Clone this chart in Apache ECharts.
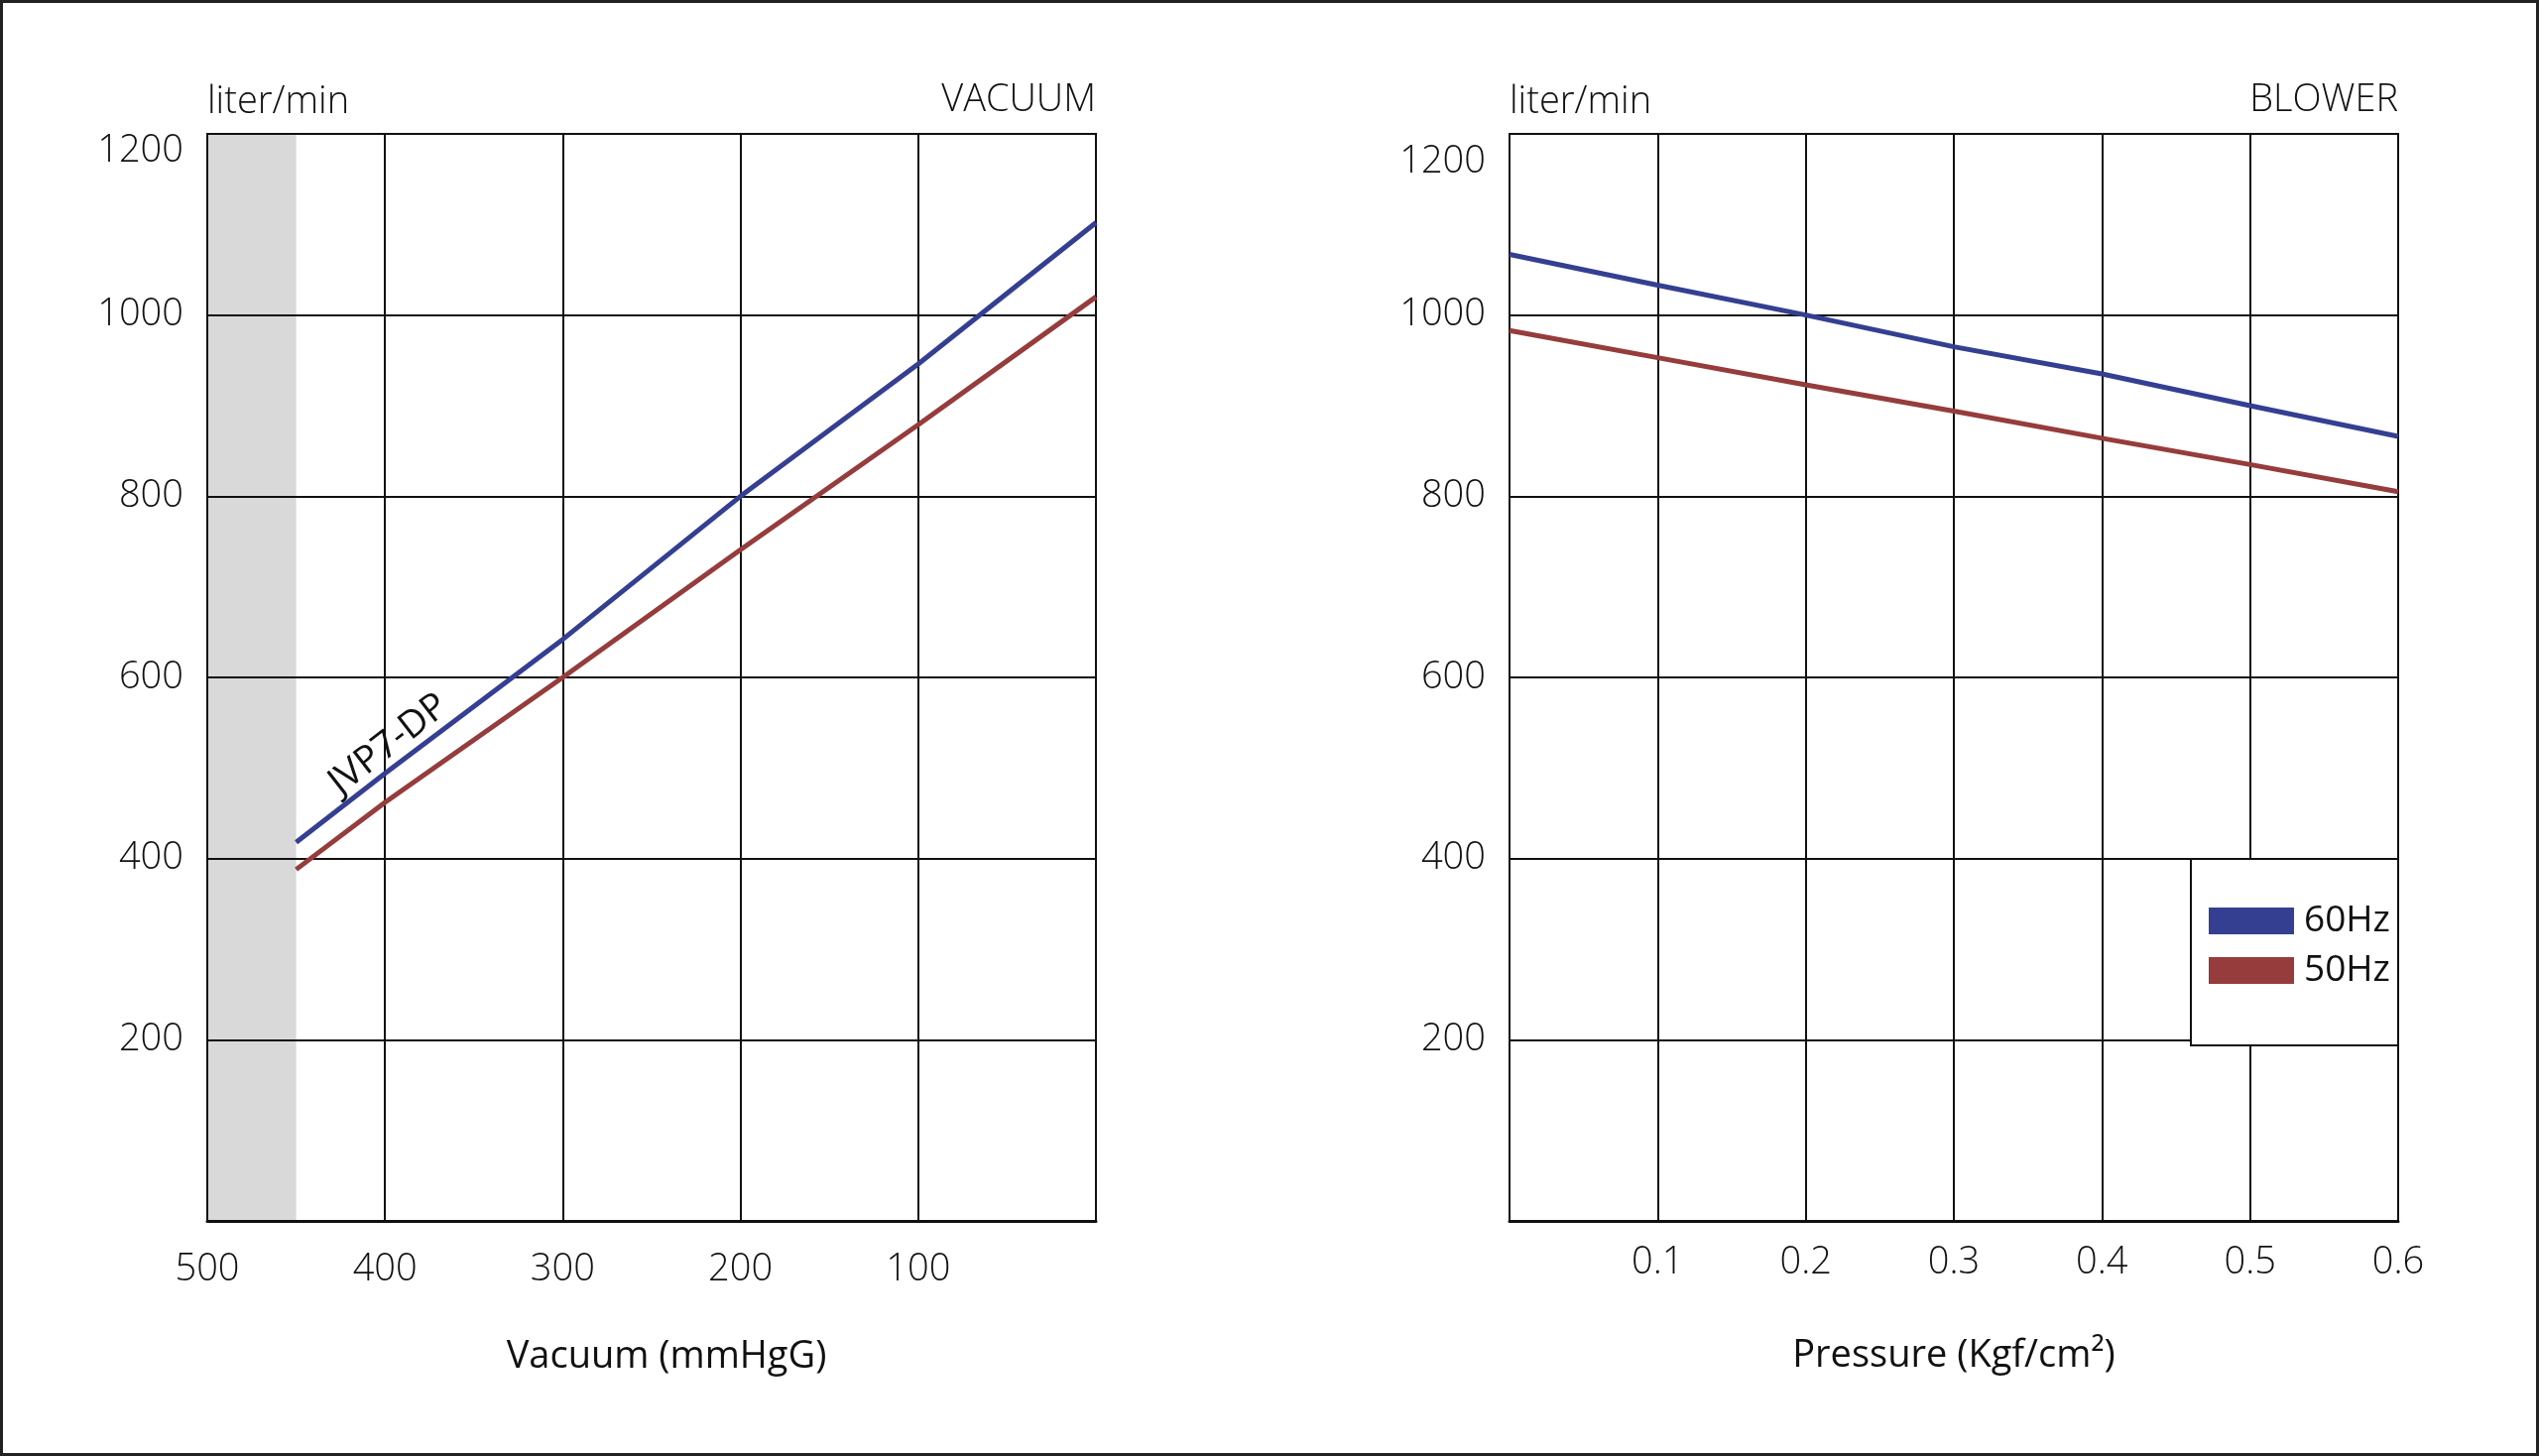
<!DOCTYPE html>
<html><head><meta charset="utf-8">
<script src="https://cdn.jsdelivr.net/npm/echarts@6/dist/echarts.min.js"></script>
<style>
html,body{margin:0;padding:0;background:#fff}
#c{width:2560px;height:1468px}
#f{position:absolute;left:0;top:0;width:2560px;height:1468px;box-sizing:border-box;border:3px solid #222;pointer-events:none}
</style>
</head><body><div id="c"></div><div id="f"></div>
<script>
// ---- data ----
const vacuumX = [450, 400, 300, 200, 100, 0];
const vacuum60 = [418, 494, 642, 800, 946, 1102];
const vacuum50 = [388, 462, 600, 741, 879, 1020];
const blowerX = [0, 0.1, 0.2, 0.3, 0.4, 0.5, 0.6];
const blower60 = [1067, 1033, 1000, 965, 935, 900, 866];
const blower50 = [983, 953, 923, 894, 864, 835, 805];
const grayBand = [500, 450];            // shaded vacuum range (mmHgG)
const modelLabel = 'JVP7-DP';
const modelLabelAt = [398, 526];
const seriesNames = ['60Hz', '50Hz'];
const yTicks = [0, 1200, 200];          // min, max, interval
const vacTicks = [0, 500, 100];
const blowTicks = [0, 0.6, 0.1];

const BLUE = '#353f92', RED = '#963c3c', INK = '#111';
const FONT = "'Open Sans', 'Noto Sans', sans-serif";
const W = 300;

function pairs(xs, ys){ return xs.map((x,i)=>[x, ys[i]]); }

const gridCommon = {top:135, bottom:237, show:true, borderColor:INK, borderWidth:2, containLabel:false};
const yAxisCommon = (idx, topPad) => ({
  type:'value', gridIndex:idx, min:yTicks[0], max:yTicks[1], interval:yTicks[2],
  name:'liter/min', nameLocation:'end', nameGap:12,
  nameTextStyle:{align:'left', fontSize:38, fontWeight:W, color:INK, lineHeight:40, verticalAlign:'bottom'},
  axisLine:{show:true, onZero:false, lineStyle:{color:INK, width:2}},
  axisTick:{show:false},
  axisLabel:{fontSize:38, fontWeight:W, color:INK, margin:24,
    formatter:v => v === 0 ? '' : (v === yTicks[1] ? '{t|' + v + '}' : String(v)),
    rich:{t:{fontSize:38, fontWeight:W, color:INK, padding:[topPad,0,0,0]}}},
  splitLine:{show:true, lineStyle:{color:INK, width:2}}
});

const lineSeries = (name, data, color, xi, extra) => Object.assign({
  name, type:'line', xAxisIndex:xi, yAxisIndex:xi, data, symbol:'none', silent:true,
  lineStyle:{color, width:5}, itemStyle:{color}, z:3, animation:false
}, extra || {});

const option = {
  animation:false,
  textStyle:{fontFamily:FONT},
  title:[
    {text:'VACUUM', right:1455, top:81, padding:0, textStyle:{fontSize:38, fontWeight:W, color:INK, lineHeight:40}},
    {text:'BLOWER', right:142, top:81, padding:0, textStyle:{fontSize:38, fontWeight:W, color:INK, lineHeight:40}}
  ],
  grid:[
    Object.assign({left:209, right:1455}, gridCommon),
    Object.assign({left:1522, right:142}, gridCommon)
  ],
  xAxis:[
    {type:'value', gridIndex:0, inverse:true, min:vacTicks[0], max:vacTicks[1], interval:vacTicks[2],
     name:'Vacuum (mmHgG)', nameLocation:'middle', nameGap:118,
     nameTextStyle:{fontSize:38, color:INK, padding:[0,0,0,30]},
     axisLine:{show:true, onZero:false, lineStyle:{color:INK, width:3}}, axisTick:{show:false},
     axisLabel:{fontSize:38, fontWeight:W, color:INK, margin:30, formatter:v => v === 0 ? '' : String(v)},
     splitLine:{show:true, lineStyle:{color:INK, width:2}}},
    {type:'value', gridIndex:1, min:blowTicks[0], max:blowTicks[1], interval:blowTicks[2],
     name:'Pressure (Kgf/cm²)', nameLocation:'middle', nameGap:117,
     nameTextStyle:{fontSize:38, color:INK},
     axisLine:{show:true, onZero:false, lineStyle:{color:INK, width:3}}, axisTick:{show:false},
     axisLabel:{fontSize:38, fontWeight:W, color:INK, margin:23, formatter:v => v === 0 ? '' : String(Math.round(v*10)/10)},
     splitLine:{show:true, lineStyle:{color:INK, width:2}}}
  ],
  yAxis:[ yAxisCommon(0, 34), yAxisCommon(1, 56) ],
  legend:{
    data:seriesNames.map(n => ({name:n, icon:'rect'})),
    orient:'vertical', left:2209, top:866,
    backgroundColor:'#fff', borderColor:INK, borderWidth:2,
    padding:[44, 8, 57, 18],
    itemWidth:86, itemHeight:27, itemGap:13,
    textStyle:{fontSize:37, color:INK, padding:[0,0,0,5]},
    selectedMode:false
  },
  series:[
    {type:'line', xAxisIndex:0, yAxisIndex:0, silent:true, symbol:'none', z:-1,
     data:[[grayBand[0], yTicks[1]], [grayBand[1], yTicks[1]]],
     lineStyle:{width:0}, areaStyle:{color:'#d9d9d9', opacity:1}},
    lineSeries(seriesNames[0], pairs(vacuumX, vacuum60), BLUE, 0, {
      markPoint:{silent:true, symbol:'circle', symbolSize:1, itemStyle:{color:'rgba(0,0,0,0)'},
        data:[{coord:modelLabelAt}],
        label:{show:true, position:'inside', formatter:modelLabel, rotate:38, fontSize:38, color:INK, fontFamily:FONT}}
    }),
    lineSeries(seriesNames[1], pairs(vacuumX, vacuum50), RED, 0),
    lineSeries(seriesNames[0], pairs(blowerX, blower60), BLUE, 1),
    lineSeries(seriesNames[1], pairs(blowerX, blower50), RED, 1)
  ]
};
const chart = echarts.init(document.getElementById('c'), null, {renderer:'canvas'});
chart.setOption(option);
</script>
</body></html>
